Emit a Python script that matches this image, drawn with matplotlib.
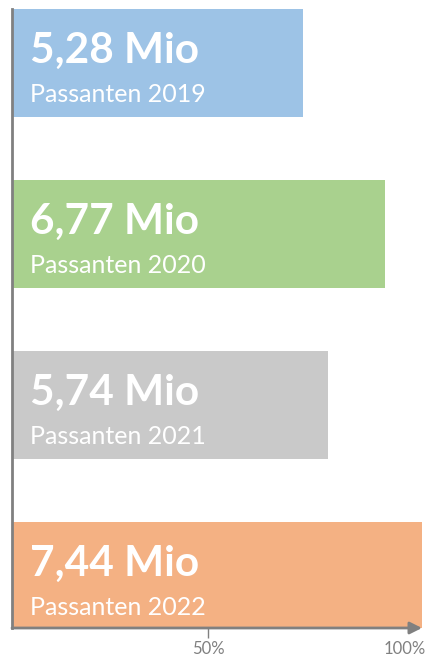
import matplotlib
matplotlib.use("Agg")
import matplotlib.pyplot as plt

# data
years = ["2019", "2020", "2021", "2022"]
values = [5.28, 6.77, 5.74, 7.44]          # Mio Passanten
value_labels = ["5,28 Mio", "6,77 Mio", "5,74 Mio", "7,44 Mio"]
colors = ["#9DC3E6", "#A9D18E", "#C9C9C9", "#F4B183"]
tick_pos = [3.56, 7.12]
tick_labels = ["50%", "100%"]

axis_gray = "#808080"
plt.rcParams["font.family"] = ["Lato", "DejaVu Sans"]

fig = plt.figure(figsize=(4.28, 6.59), dpi=100)
ax = fig.add_axes([12 / 428, 31 / 659, 410 / 428, 619 / 659])

bar_h = 0.63
ypos = list(range(len(years)))
ax.barh(ypos, values, height=bar_h, color=colors, zorder=1)

for y, lab, yr in zip(ypos, value_labels, years):
    top = y - bar_h / 2
    ax.annotate(lab, xy=(0, top), xytext=(13, -38.5), textcoords="offset points",
                color="white", fontsize=30.5, fontweight="bold", va="baseline", ha="left")
    ax.annotate("Passanten " + yr, xy=(0, top), xytext=(13, -66.5), textcoords="offset points",
                color="white", fontsize=18, va="baseline", ha="left")

ax.set_xlim(0, 7.44)
ax.set_ylim(3.304, -0.316)

for s in ["top", "right", "bottom"]:
    ax.spines[s].set_visible(False)
ax.spines["left"].set_color(axis_gray)
ax.spines["left"].set_linewidth(2)

# x axis with arrow
ax.annotate("", xy=(1.0, 0), xytext=(0, 0), xycoords="axes fraction",
            arrowprops=dict(arrowstyle="-|>", color=axis_gray, lw=2, mutation_scale=18,
                            shrinkA=0, shrinkB=0), zorder=3)

ax.set_yticks([])
ax.set_xticks(tick_pos)
ax.set_xticklabels(tick_labels)
ax.tick_params(axis="x", colors=axis_gray, length=7, width=1, labelsize=12, pad=2)
ax.xaxis.get_major_ticks()[1].tick1line.set_visible(False)

fig.savefig("out.png", dpi=100)
